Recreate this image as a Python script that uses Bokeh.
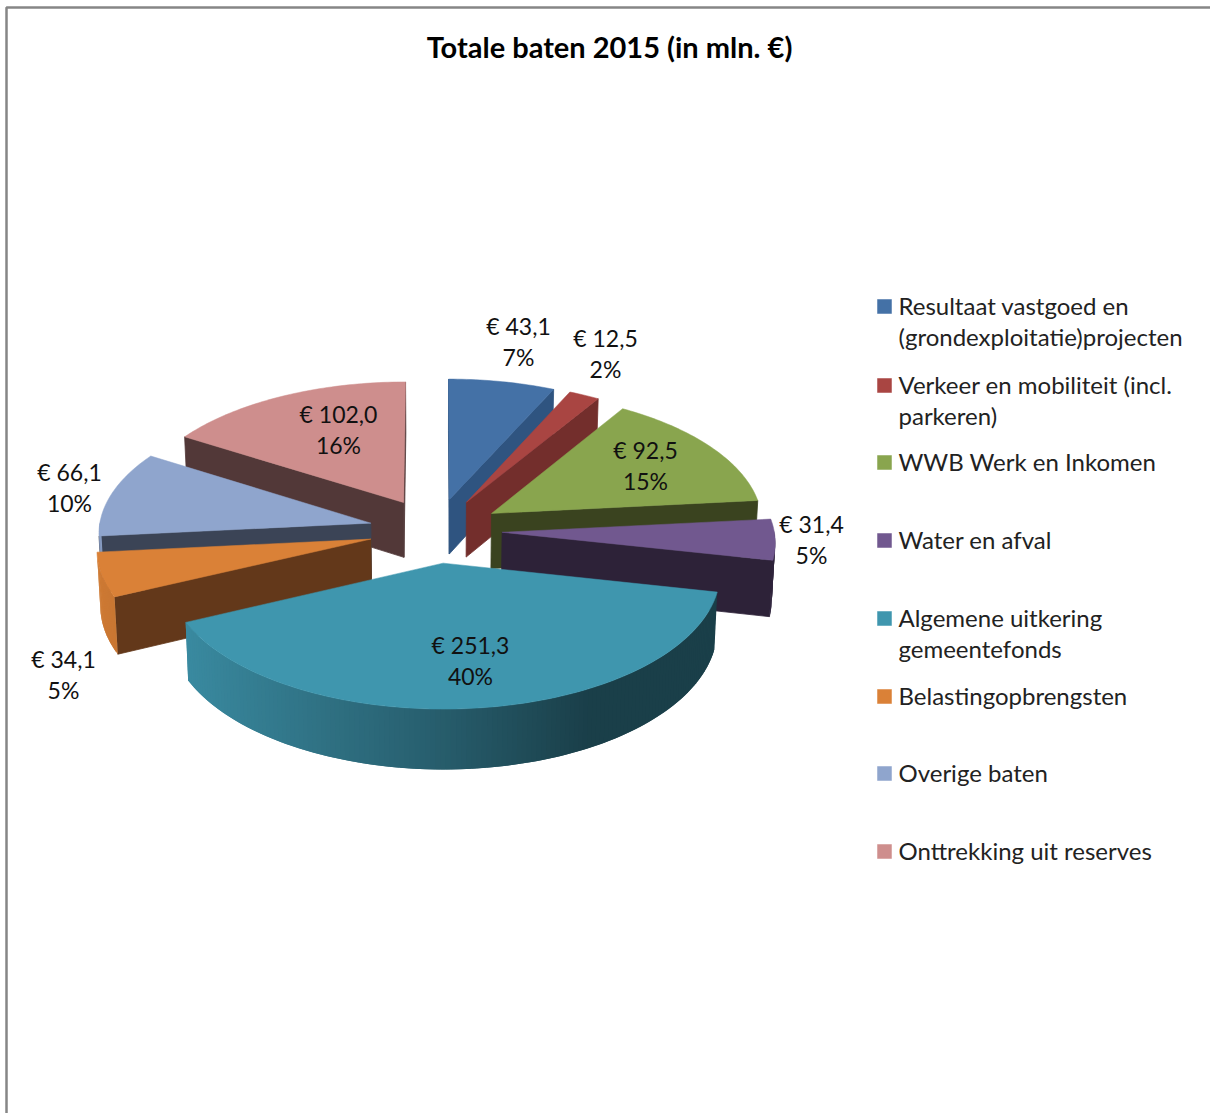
import math
from bokeh.plotting import figure
from bokeh.models import Range1d
from bokeh.core.properties import value
from bokeh.embed import file_html
from bokeh.resources import INLINE

# ---- data
title = "Totale baten 2015 (in mln. €)"
values = [43.1, 12.5, 92.5, 31.4, 251.3, 34.1, 66.1, 102.0]
names = [
    ["Resultaat vastgoed en", "(grondexploitatie)projecten"],
    ["Verkeer en mobiliteit (incl.", "parkeren)"],
    ["WWB Werk en Inkomen"],
    ["Water en afval"],
    ["Algemene uitkering", "gemeentefonds"],
    ["Belastingopbrengsten"],
    ["Overige baten"],
    ["Onttrekking uit reserves"],
]
top_colors = ["#4471A6", "#A94542", "#89A54E", "#71588F", "#3F96AE", "#DA8137", "#8FA5CD", "#CE8E8D"]
side_colors = ["#2F5480", "#732E2C", "#3A431F", "#2D2238", "#1A3A45", "#63381A", "#3B4456", "#523838"]

# ---- layout / style
FONT = "Lato"
W, H = 1210, 1113
CX, CY, RX, RY, PERSP, EXPLODE, DEPTH, SHRINK = 435.0, 530.0, 272.0, 132.0, 0.065, 0.245, 55.5, 0.01
LABEL_XY = [(518, 325.5), (605, 337.5), (645, 449.5), (811, 523.5), (470, 644.5), (63, 658.5), (69, 471.5), (338, 413.5)]
LEGEND_Y = [306, 385, 462, 540, 618, 696, 773, 851]
DRAW_ORDER = [7, 0, 1, 2, 6, 5, 3, 4]

total = sum(values)
starts, a = [], 0.0
for v in values:
    starts.append(a)
    a += v / total * 2 * math.pi


def project(gx, gy, z=0.0):
    s = 1.0 / (1.0 + PERSP * gy)
    x = CX + RX * gx * s * (1 - SHRINK * z)
    y = CY - RY * gy * s + DEPTH * s * z
    return x, y


def ground(mid, theta, r=1.0):
    return EXPLODE * math.sin(mid) + r * math.sin(theta), EXPLODE * math.cos(mid) + r * math.cos(theta)


def shade(hex_color, f):
    r, g, b = (int(hex_color[i:i + 2], 16) for i in (1, 3, 5))
    return "#%02x%02x%02x" % (int(r * f), int(g * f), int(b * f))


def wall_factor(theta):
    sx = math.sin(theta)
    pts = [(-1.0, 0.95), (-0.9, 0.92), (0.0, 0.62), (0.5, 0.42), (1.0, 0.42)]
    for (x0, f0), (x1, f1) in zip(pts, pts[1:]):
        if sx <= x1:
            return f0 + (f1 - f0) * (sx - x0) / (x1 - x0)
    return 0.42


p = figure(width=W, height=H, x_range=Range1d(0, W), y_range=Range1d(H, 0),
           output_backend="svg", toolbar_location=None, min_border=0,
           background_fill_color="white", border_fill_color="white", outline_line_color=None)
p.axis.visible = False
p.grid.visible = False

# frame of the chart area
p.line([6, 6, W], [H, 7, 7], line_color="#868686", line_width=2.5)

for i in DRAW_ORDER:
    a0 = starts[i]
    a1 = a0 + values[i] / total * 2 * math.pi
    mid = (a0 + a1) / 2
    n = max(6, int((a1 - a0) / math.radians(1.0)))
    thetas = [a0 + (a1 - a0) * k / n for k in range(n + 1)]
    apex = ground(mid, 0, 0)
    A = project(*apex)
    top = [project(*ground(mid, t)) for t in thetas]
    M = top[n // 2]
    # radial faces
    xs, ys, cols = [], [], []
    for t, P in ((a0, top[0]), (a1, top[-1])):
        ex, ey = P[0] - A[0], P[1] - A[1]
        inner = ex * (M[1] - A[1]) - ey * (M[0] - A[0])
        if inner * ex < 0:
            g = ground(mid, t)
            A2 = project(*apex, 1.0)
            P2 = project(*g, 1.0)
            xs.append([A[0], P[0], P2[0], A2[0]])
            ys.append([A[1], P[1], P2[1], A2[1]])
            cols.append(side_colors[i])
    if xs:
        p.patches(xs, ys, fill_color=cols, line_color=cols, line_width=0.8)
    # curved outer wall: overlapping strips, each one reaching over its neighbour
    xs, ys, cols = [], [], []
    for t0, t1, t2 in zip(thetas, thetas[1:], thetas[2:] + [thetas[-1]]):
        if math.cos((t0 + t1) / 2) >= 0:
            continue
        g0, g2 = ground(mid, t0), ground(mid, t2)
        q0, q1 = project(*g0), project(*g2)
        q2, q3 = project(*g2, 1.0), project(*g0, 1.0)
        xs.append([q0[0], q1[0], q2[0], q3[0]])
        ys.append([q0[1], q1[1], q2[1], q3[1]])
        cols.append(shade(top_colors[i], wall_factor((t0 + t1) / 2)))
    if xs:
        p.patches(xs, ys, fill_color=cols, line_color=None)
    # top face
    p.patch([A[0]] + [q[0] for q in top], [A[1]] + [q[1] for q in top],
            fill_color=top_colors[i], line_color=top_colors[i], line_width=0.5)

# data labels
lab_x, lab_y, lab_t = [], [], []
for v, (lx, ly) in zip(values, LABEL_XY):
    lab_x += [lx, lx]
    lab_y += [ly, ly + 31]
    lab_t += [("€ %.1f" % v).replace(".", ","), "%d%%" % round(v / total * 100)]
p.text(lab_x, lab_y, text=lab_t, text_font=value(FONT), text_font_size="23px", text_color="#111111",
       text_align="center", text_baseline="middle")

# legend
for c, y, lines in zip(top_colors, LEGEND_Y, names):
    p.rect([884], [y], width=14, height=14, fill_color=c, line_color=c, line_width=0.5)
    p.text([898] * len(lines), [y - 1.2 + 31 * k for k in range(len(lines))], text=lines,
           text_font=value(FONT), text_font_size="24px", text_color="#222222",
           text_align="left", text_baseline="middle")

# title
p.text([609], [45.5], text=[title], text_font=value(FONT), text_font_size="29px", text_font_style="bold",
       text_color="#000000", text_align="center", text_baseline="middle")

open("out.html", "w").write(file_html(p, INLINE))
